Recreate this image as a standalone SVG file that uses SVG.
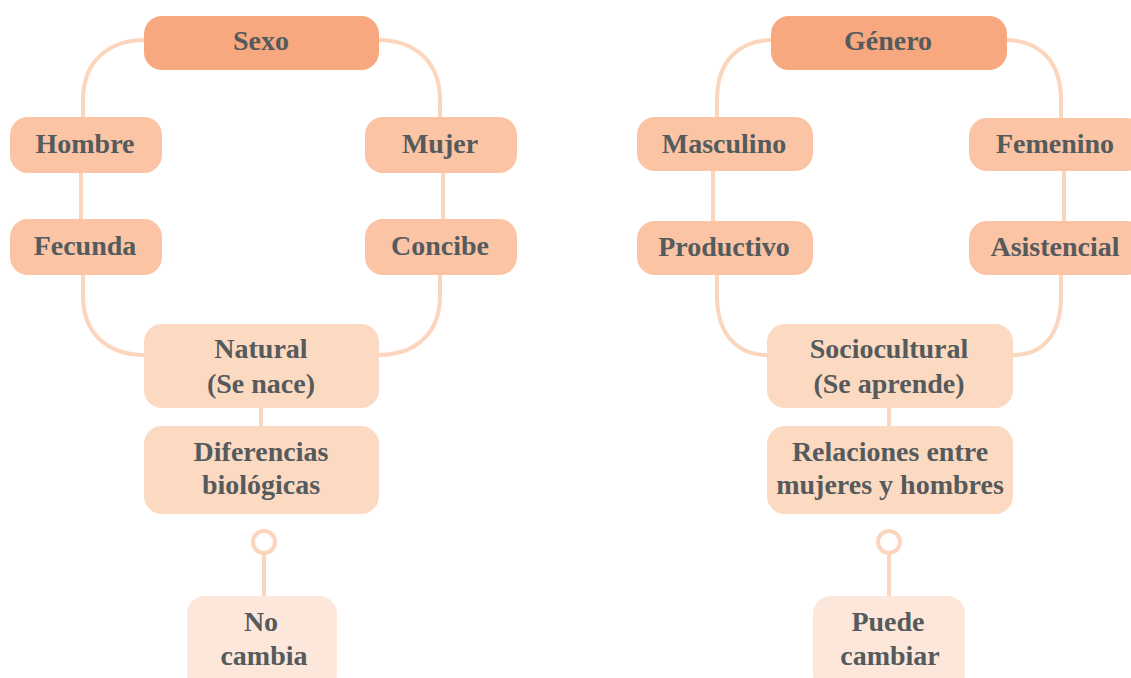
<svg xmlns="http://www.w3.org/2000/svg" width="1131" height="678" viewBox="0 0 1131 678">
<style>
.c{fill:none;stroke:#fcd5bd;stroke-width:4;stroke-linecap:butt}
.t{font-family:"Liberation Serif","DejaVu Serif",serif;font-weight:bold;font-size:28px;fill:#555a5c;text-anchor:middle}
.l0{fill:#f7a87f}
.l1{fill:#fbc4a5}
.l2{fill:#fcd9c1}
.l3{fill:#fde6da}
</style>
<rect width="1131" height="678" fill="#ffffff"/>
<g id="connectors">
<path class="c" d="M145 40 C110 40 83 60 83 100 V118"/>
<path class="c" d="M81 172 V220"/>
<path class="c" d="M83 274 V296 C83 332 106 355 145 355"/>
<path class="c" d="M378 40 C413 40 440 60 440 100 V118"/>
<path class="c" d="M443 172 V220"/>
<path class="c" d="M440 274 V296 C440 332 417 355 378 355"/>
<path class="c" d="M261 407 V427"/>
<circle class="c" cx="264" cy="542" r="11"/>
<path class="c" d="M264 553 V597"/>
<path class="c" d="M772 40 C740 40 717 60 717 100 V118"/>
<path class="c" d="M713 170 V222"/>
<path class="c" d="M717 274 V296 C717 332 735 355 768 355"/>
<path class="c" d="M1006 40 C1038 40 1061 60 1061 100 V119"/>
<path class="c" d="M1064 170 V222"/>
<path class="c" d="M1061 274 V296 C1061 332 1045 355 1013 355"/>
<path class="c" d="M889 407 V427"/>
<circle class="c" cx="889" cy="542" r="11"/>
<path class="c" d="M889 553 V597"/>
</g>
<g id="sexo"><rect class="l0" x="144" y="16" width="235" height="54" rx="18"/><text class="t" x="261" y="50">Sexo</text></g>
<g id="hombre"><rect class="l1" x="10" y="117" width="152" height="56" rx="18"/><text class="t" x="85" y="153">Hombre</text></g>
<g id="mujer"><rect class="l1" x="365" y="117" width="152" height="56" rx="18"/><text class="t" x="440" y="153">Mujer</text></g>
<g id="fecunda"><rect class="l1" x="10" y="219" width="152" height="56" rx="18"/><text class="t" x="85" y="255">Fecunda</text></g>
<g id="concibe"><rect class="l1" x="365" y="219" width="152" height="56" rx="18"/><text class="t" x="440" y="255">Concibe</text></g>
<g id="natural"><rect class="l2" x="144" y="324" width="235" height="84" rx="18"/><text class="t" x="261" y="358">Natural</text><text class="t" x="261" y="393">(Se nace)</text></g>
<g id="diferencias"><rect class="l2" x="144" y="426" width="235" height="88" rx="18"/><text class="t" x="261" y="461">Diferencias</text><text class="t" x="261" y="494">biológicas</text></g>
<g id="nocambia"><rect class="l3" x="187" y="596" width="150" height="96" rx="18"/><text class="t" x="261" y="631">No</text><text class="t" x="264" y="665">cambia</text></g>
<g id="genero"><rect class="l0" x="771" y="16" width="236" height="54" rx="18"/><text class="t" x="888" y="50">Género</text></g>
<g id="masculino"><rect class="l1" x="637" y="117" width="176" height="54" rx="18"/><text class="t" x="724" y="153">Masculino</text></g>
<g id="femenino"><rect class="l1" x="969" y="118" width="176" height="53" rx="18"/><text class="t" x="1055" y="153">Femenino</text></g>
<g id="productivo"><rect class="l1" x="637" y="221" width="176" height="54" rx="18"/><text class="t" x="724" y="256">Productivo</text></g>
<g id="asistencial"><rect class="l1" x="969" y="221" width="176" height="54" rx="18"/><text class="t" x="1055" y="256">Asistencial</text></g>
<g id="sociocultural"><rect class="l2" x="767" y="324" width="246" height="84" rx="18"/><text class="t" x="889" y="358">Sociocultural</text><text class="t" x="889" y="393">(Se aprende)</text></g>
<g id="relaciones"><rect class="l2" x="767" y="426" width="246" height="88" rx="18"/><text class="t" x="890" y="461">Relaciones entre</text><text class="t" x="890" y="494">mujeres y hombres</text></g>
<g id="puedecambiar"><rect class="l3" x="813" y="596" width="152" height="96" rx="18"/><text class="t" x="888" y="631">Puede</text><text class="t" x="890" y="665">cambiar</text></g>
</svg>
